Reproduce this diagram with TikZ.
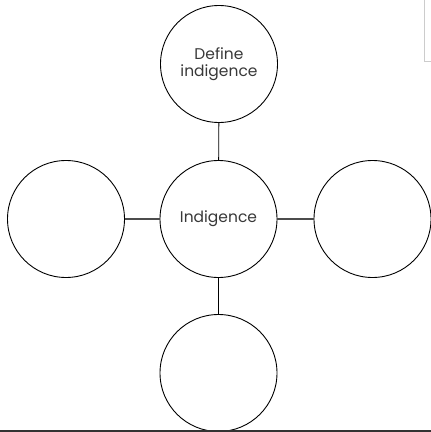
\documentclass[tikz,border=0pt]{standalone}
\usepackage{fontspec}
\setmainfont{Poppins}
\begin{document}
\begin{tikzpicture}[x=1pt,y=-1pt,
  bubble/.style={circle,draw=black,line width=0.9pt,minimum size=117pt,inner sep=0pt,align=center,
    font=\fontsize{15.5}{16.5}\selectfont,text=black!78},
  link/.style={draw=black!70,line width=1.2pt}]
\useasboundingbox (0,0) rectangle (431,432);
\node[bubble] (top) at (219,64) {Define\\indigence};
\node[bubble] (mid) at (218.5,219) {Indigence};
\node[bubble] (left) at (66,219) {};
\node[bubble] (right) at (372.5,219) {};
\node[bubble] (bot) at (218.5,373) {};
\draw[draw=black,line width=0.9pt] (top) -- (mid);
\draw[draw=black,line width=0.9pt] (mid) -- (bot);
\draw[link] (left) -- (mid);
\draw[link] (mid) -- (right);
\coordinate (gA) at (424.8,0);
\coordinate (gB) at (424.8,61);
\coordinate (gC) at (431,61);
\draw[draw=black!20,line width=0.8pt] (gA) -- (gB) -- (gC);
\coordinate (bL) at (0,431);
\coordinate (bR) at (431,431);
\draw[draw=black!80,line width=1.4pt] (bL) -- (bR);
\end{tikzpicture}
\end{document}
